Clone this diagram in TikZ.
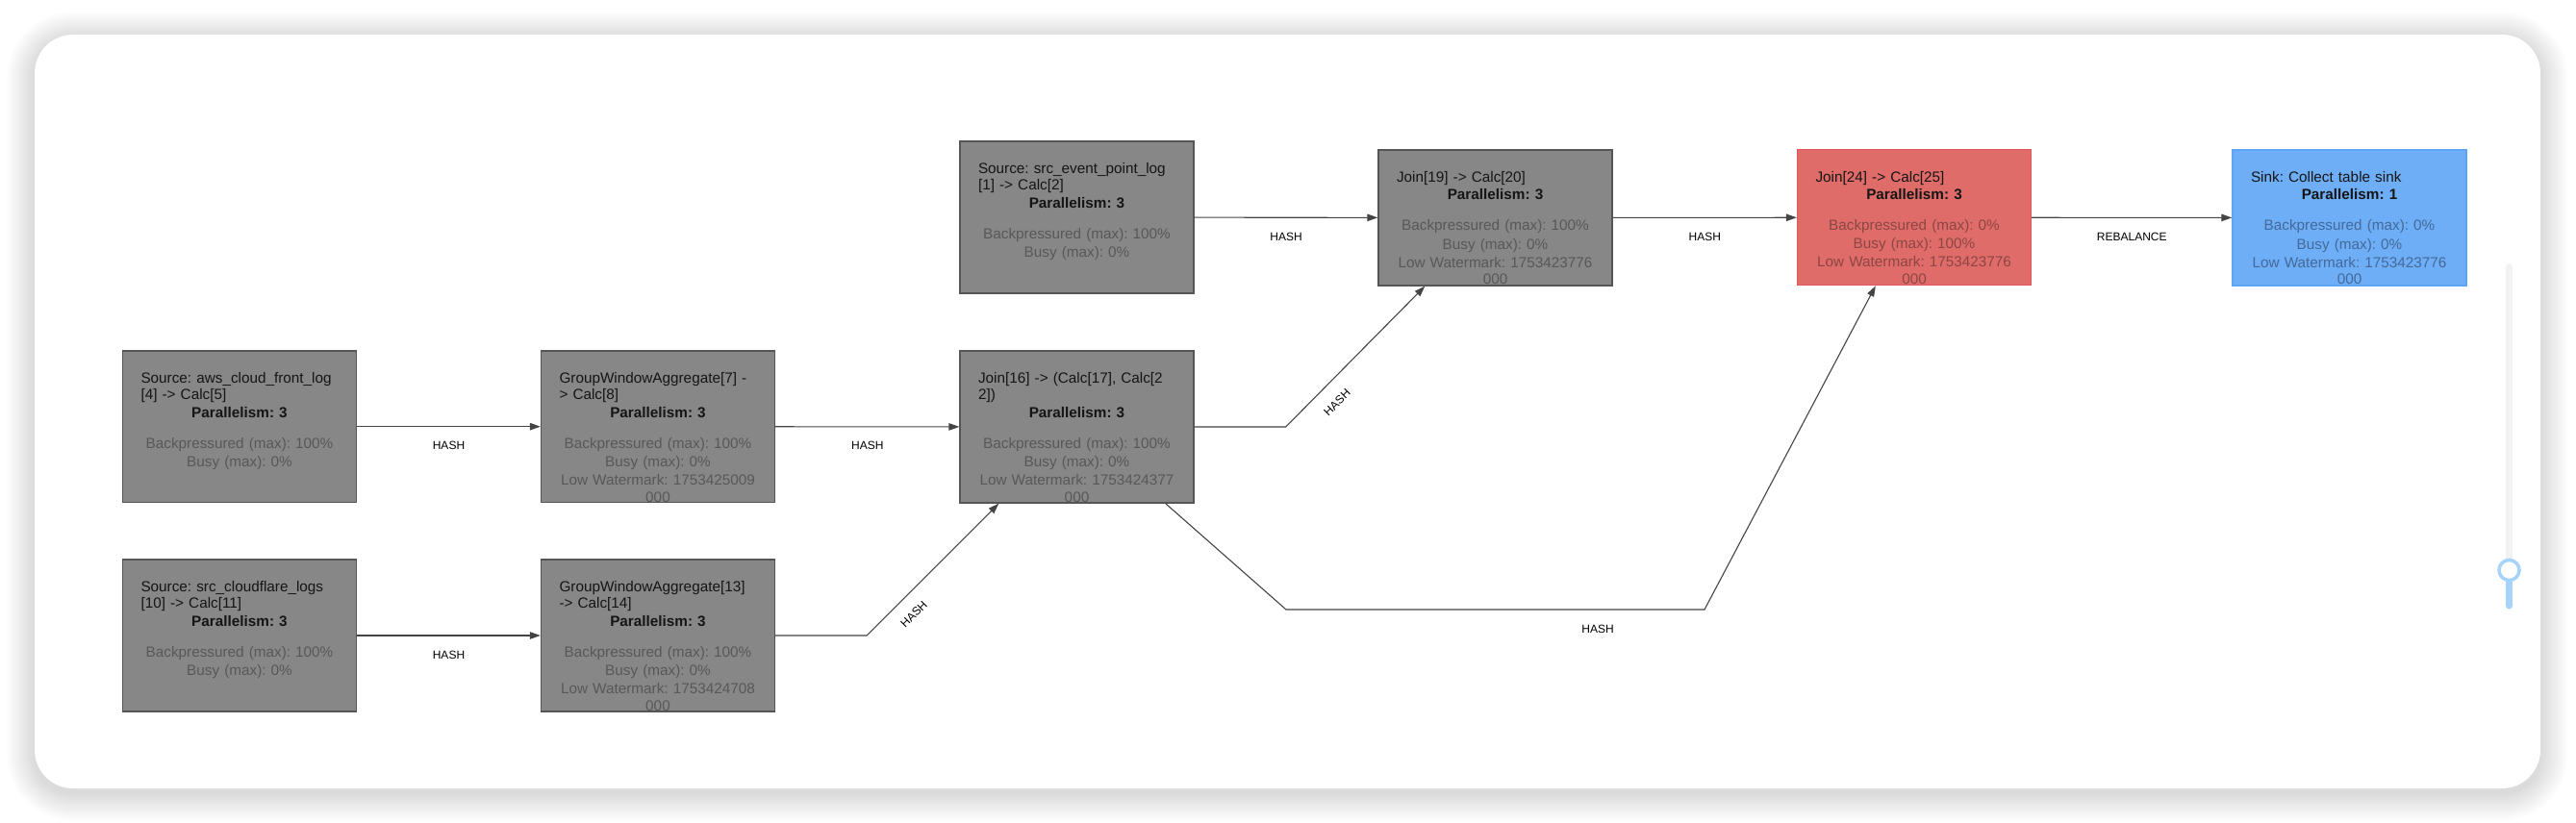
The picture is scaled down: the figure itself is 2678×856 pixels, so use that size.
\documentclass[tikz,border=0pt]{standalone}
\usepackage{fontspec}
\setmainfont{Liberation Sans}
\usetikzlibrary{calc,arrows.meta}
\frenchspacing
\definecolor{boxgray}{HTML}{878787}
\definecolor{boxgrayedge}{HTML}{555555}
\definecolor{metgray}{HTML}{585858}
\definecolor{boxred}{HTML}{DF6C69}
\definecolor{boxrededge}{HTML}{E2585A}
\definecolor{metred}{HTML}{8C4644}
\definecolor{boxblue}{HTML}{6EAEF6}
\definecolor{boxblueedge}{HTML}{5FA3F5}
\definecolor{metblue}{HTML}{44699A}
\definecolor{edgecol}{HTML}{444444}
\definecolor{titlecol}{HTML}{151515}
\definecolor{trackcol}{HTML}{F2F2F2}
\definecolor{knobcol}{HTML}{A5D3FB}
\newcommand\ctr[1]{\makebox[205pt][c]{#1}}
\begin{document}
\frenchspacing
\begin{tikzpicture}[x=1pt,y=-1pt,
  opbox/.style={rectangle, draw=boxgrayedge, fill=boxgray, line width=1.4pt, minimum width=243pt, inner sep=0pt},
  redbox/.style={opbox, draw=boxrededge, fill=boxred},
  bluebox/.style={opbox, draw=boxblueedge, fill=boxblue},
  optext/.style={text width=205pt, align=left, inner sep=0pt, font=\fontsize{15.3}{17.4}\selectfont\frenchspacing, text=titlecol, anchor=north},
  edge/.style={draw=edgecol, line width=1.1pt, -{Triangle[length=11pt,width=7.5pt]}},
  lbl/.style={font=\fontsize{12}{14}\selectfont, text=black, inner sep=0pt},
]
\useasboundingbox (0,0) rectangle (2678,856);
\fill[white] (0,0) rectangle (2678,856);
% shadow and card
\foreach \i [evaluate=\i as \r using 40+1.6*\i] in {1,...,18}{
  \fill[black, opacity=0.009, rounded corners=\r pt] (36-\i*1.6, 36-\i*1.6+5) rectangle (2641+\i*1.6, 820+\i*1.6+5);
}
\fill[white, rounded corners=40pt] (36,36) rectangle (2641,820);
% slider
\draw[trackcol, line width=7pt, line cap=round] (2608.5,278) -- (2608.5,582);
\draw[knobcol, line width=7pt, line cap=round] (2608.5,606) -- (2608.5,630);
\draw[knobcol, line width=3.5pt, fill=white] (2608.5,593) circle (10.5pt);

% boxes
\node[opbox, minimum height=157.5pt] (aws) at (249,443.7) {};
\node[opbox, minimum height=157.5pt] (gwa7) at (684,443.7) {};
\node[opbox, minimum height=158pt] (cf) at (249,661) {};
\node[opbox, minimum height=158pt] (gwa13) at (684,661) {};
\node[opbox, minimum height=158pt] (evt) at (1119.5,226) {};
\node[opbox, minimum height=158pt] (j16) at (1119.5,444) {};
\node[opbox, minimum height=141pt] (j19) at (1554.5,226.5) {};
\node[redbox, minimum height=141pt] (j24) at (1990,226.2) {};
\node[bluebox, minimum height=141pt] (sink) at (2442.5,226.5) {};

% texts
\node[optext] (awst) at ($(aws.north)+(0,23)$) {Source: aws\_cloud\_front\_log\\{}[4] -> Calc[5]\\[0.9pt] \ctr{\bfseries Parallelism: 3}\\[14.6pt] \ctr{\color{metgray}Backpressured (max): 100\%}\\[1.8pt] \ctr{\color{metgray}Busy (max): 0\%}};
\node[optext] (gwa7t) at ($(gwa7.north)+(0,23)$) {GroupWindowAggregate[7] -\\{}> Calc[8]\\[0.9pt] \ctr{\bfseries Parallelism: 3}\\[14.6pt] \ctr{\color{metgray}Backpressured (max): 100\%}\\[1.8pt] \ctr{\color{metgray}Busy (max): 0\%}\\[1.8pt] \ctr{\color{metgray}Low Watermark: 1753425009}\\{}\ctr{\color{metgray}000}};
\node[optext] (cft) at ($(cf.north)+(0,23)$) {Source: src\_cloudflare\_logs\\{}[10] -> Calc[11]\\[0.9pt] \ctr{\bfseries Parallelism: 3}\\[14.6pt] \ctr{\color{metgray}Backpressured (max): 100\%}\\[1.8pt] \ctr{\color{metgray}Busy (max): 0\%}};
\node[optext] (gwa13t) at ($(gwa13.north)+(0,23)$) {GroupWindowAggregate[13]\\{}-> Calc[14]\\[0.9pt] \ctr{\bfseries Parallelism: 3}\\[14.6pt] \ctr{\color{metgray}Backpressured (max): 100\%}\\[1.8pt] \ctr{\color{metgray}Busy (max): 0\%}\\[1.8pt] \ctr{\color{metgray}Low Watermark: 1753424708}\\{}\ctr{\color{metgray}000}};
\node[optext] (evtt) at ($(evt.north)+(0,23)$) {Source: src\_event\_point\_log\\{}[1] -> Calc[2]\\[0.9pt] \ctr{\bfseries Parallelism: 3}\\[14.6pt] \ctr{\color{metgray}Backpressured (max): 100\%}\\[1.8pt] \ctr{\color{metgray}Busy (max): 0\%}};
\node[optext] (j16t) at ($(j16.north)+(0,23)$) {Join[16] -> (Calc[17], Calc[2\\{}2])\\[0.9pt] \ctr{\bfseries Parallelism: 3}\\[14.6pt] \ctr{\color{metgray}Backpressured (max): 100\%}\\[1.8pt] \ctr{\color{metgray}Busy (max): 0\%}\\[1.8pt] \ctr{\color{metgray}Low Watermark: 1753424377}\\{}\ctr{\color{metgray}000}};
\node[optext] (j19t) at ($(j19.north)+(0,23)$) {Join[19] -> Calc[20]\\[0.9pt] \ctr{\bfseries Parallelism: 3}\\[14.6pt] \ctr{\color{metgray}Backpressured (max): 100\%}\\[1.8pt] \ctr{\color{metgray}Busy (max): 0\%}\\[1.8pt] \ctr{\color{metgray}Low Watermark: 1753423776}\\{}\ctr{\color{metgray}000}};
\node[optext] (j24t) at ($(j24.north)+(0,23)$) {Join[24] -> Calc[25]\\[0.9pt] \ctr{\bfseries Parallelism: 3}\\[14.6pt] \ctr{\color{metred}Backpressured (max): 0\%}\\[1.8pt] \ctr{\color{metred}Busy (max): 100\%}\\[1.8pt] \ctr{\color{metred}Low Watermark: 1753423776}\\{}\ctr{\color{metred}000}};
\node[optext] (sinkt) at ($(sink.north)+(0,23)$) {Sink: Collect table sink\\[0.9pt] \ctr{\bfseries Parallelism: 1}\\[14.6pt] \ctr{\color{metblue}Backpressured (max): 0\%}\\[1.8pt] \ctr{\color{metblue}Busy (max): 0\%}\\[1.8pt] \ctr{\color{metblue}Low Watermark: 1753423776}\\{}\ctr{\color{metblue}000}};

% edges
\draw[edge] (aws) -- node[lbl, yshift=-20pt] (l1) {HASH} (gwa7);
\draw[edge] (cf) -- node[lbl, yshift=-20pt] (l2) {HASH} (gwa13);
\draw[edge] (gwa7) -- node[lbl, yshift=-20pt] (l3) {HASH} (j16);
\draw[edge] (evt) -- node[lbl, yshift=-20pt] (l5) {HASH} (j19);
\draw[edge] (j19) -- node[lbl, yshift=-20pt] (l6) {HASH} (j24);
\draw[edge] (j24) -- node[lbl, yshift=-20pt] (l7) {REBALANCE} (sink);
\draw[edge] (gwa13.east) -- ++(95,0) -- ($(j16.south west)+(41,0)$);
\node[lbl, rotate=45] (l4) at (950,639) {HASH};
\draw[edge] (j16.east) -- ++(95,0) -- ($(j19.south west)+(49,0)$);
\node[lbl, rotate=45] (l8) at (1390,418.5) {HASH};
\draw[edge] ($(j16.south east)+(-30,0)$) -- (1337,634) -- (1772,634) -- ($(j24.south west)+(82,0)$);
\node[lbl] (l9) at (1661,654) {HASH};
\end{tikzpicture}
\end{document}
